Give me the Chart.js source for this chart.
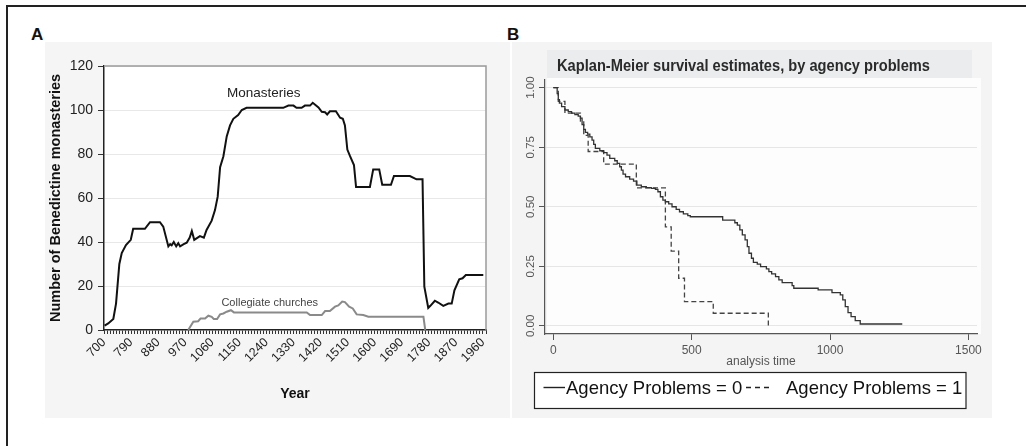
<!DOCTYPE html>
<html><head><meta charset="utf-8">
<script src="https://cdn.jsdelivr.net/npm/chart.js@4.4.1/dist/chart.umd.min.js"></script>
<style>
html,body{margin:0;padding:0;background:#fff;}
body{width:1026px;height:446px;position:relative;overflow:hidden;font-family:"Liberation Sans",Arial,sans-serif;}
#frame{position:absolute;left:6px;top:5px;width:1040px;height:460px;border-top:2px solid #222;border-left:2px solid #222;}
.plabel{position:absolute;font-weight:bold;font-size:17px;line-height:17px;color:#111;}
#wrapA{position:absolute;left:45px;top:42px;width:465px;height:376px;background:#f5f5f5;}
#wrapB{position:absolute;left:512px;top:42px;width:480px;height:376px;background:#f4f4f4;}
canvas{display:block;}
</style></head>
<body>
<div id="frame"></div>
<div class="plabel" style="left:31px;top:26px;">A</div>
<div class="plabel" style="left:507px;top:26px;">B</div>
<div id="wrapA"><canvas id="chartA" width="465" height="376"></canvas></div>
<div id="wrapB"><canvas id="chartB" width="480" height="376"></canvas></div>
<script>
const FONT = '"Liberation Sans", Arial, sans-serif';

// ---------- Panel A data ----------
const monYears = [702,714,731,740,751,759,773,789,797,836,853,886,897,914,920,925,932,940,947,953,965,975,985,992,1000,1019,1032,1041,1058,1069,1078,1086,1097,1108,1119,1130,1146,1158,1174,1296,1313,1330,1340,1357,1368,1385,1394,1413,1424,1435,1442,1451,1471,1485,1494,1501,1509,1518,1531,1538,1584,1595,1615,1625,1654,1664,1717,1739,1759,1765,1778,1785,1800,1811,1828,1845,1856,1865,1881,1892,1903,1961];
const monCounts = [2,3,5,12,30,35,38.6,41,46,46,49,49,47,38,39,38.5,40,38,39.5,38,39,39.7,42,45,41,42.7,42,45.5,49.7,54.5,60.6,74,79,88,93,96,97.7,100,101,101,102,102,101,101,102,102,103.3,101.2,99.2,99,98,99.4,99.4,96.5,96,93,82,79,75,65,65,73,73,66,66,70,70,68.5,68.5,19.7,10,11,13.3,12.5,11,12,12,18,23,23.5,25,25];
const churchYears = [980,997,1013,1021,1036,1047,1058,1065,1076,1086,1097,1108,1122,1132,1374,1385,1424,1435,1451,1468,1479,1492,1501,1515,1527,1540,1562,1579,1762,1768];
const churchCounts = [0,3.8,4,5.2,5.2,6.5,6,5,5,7.1,7.5,8.3,9,8,8,6.8,6.8,8.6,8.6,10.6,11.2,12.9,12.7,10.6,9.8,7.1,6.8,6,6,0];
const yearTickLabels = [700,790,880,970,1060,1150,1240,1330,1420,1510,1600,1690,1780,1870,1960];
const countTicks = [0,20,40,60,80,100,120];

// ---------- Panel B data ----------
const kmTime0 = [0,14,18,22,30,42,54,66,78,90,98,104,110,116,124,132,140,146,152,168,182,194,204,222,231,240,246,252,261,276,290,302,318,336,354,369,378,387,396,405,417,429,444,456,470,486,495,612,656,665,674,683,693,701,707,716,723,737,749,770,779,789,803,815,827,863,869,957,1007,1037,1046,1055,1065,1076,1091,1109,1261];
const kmSurv0 = [1,0.975,0.95,0.935,0.92,0.906,0.899,0.893,0.887,0.88,0.872,0.845,0.825,0.812,0.805,0.793,0.78,0.762,0.745,0.735,0.727,0.717,0.703,0.693,0.682,0.668,0.654,0.637,0.626,0.616,0.608,0.591,0.584,0.58,0.577,0.573,0.563,0.542,0.528,0.521,0.512,0.5,0.489,0.479,0.47,0.463,0.458,0.444,0.433,0.423,0.403,0.382,0.361,0.333,0.305,0.284,0.267,0.259,0.249,0.239,0.228,0.218,0.207,0.193,0.182,0.169,0.158,0.151,0.14,0.13,0.109,0.081,0.056,0.039,0.022,0.008,0.008];
const kmTime1 = [0,18,42,98,110,126,182,300,405,426,453,474,578,777];
const kmSurv1 = [1,0.942,0.893,0.86,0.8,0.732,0.679,0.579,0.416,0.314,0.2,0.102,0.053,0];
const kmTimeTicks = [0,500,1000,1500];
const kmSurvTicks = [0,0.25,0.5,0.75,1];
const kmTitle = 'Kaplan-Meier survival estimates, by agency problems';

const toXY = (xs, ys) => xs.map((x, i) => ({x, y: ys[i]}));

// ---------- Panel A ----------
const panelAPlugin = {
  id: 'panelA',
  beforeDraw(chart) {
    const {ctx, chartArea: a} = chart;
    ctx.save();
    ctx.fillStyle = '#ffffff';
    ctx.fillRect(a.left, a.top, a.right - a.left, a.bottom - a.top);
    ctx.restore();
  },
  beforeDatasetsDraw(chart) {
    const {ctx, chartArea: a} = chart;
    ctx.save();
    ctx.strokeStyle = '#9a9a9a';
    ctx.lineWidth = 1.5;
    ctx.beginPath();
    ctx.moveTo(a.left, a.top);
    ctx.lineTo(a.right, a.top);
    ctx.lineTo(a.right, a.bottom);
    ctx.stroke();
    ctx.restore();
  },
  afterDatasetsDraw(chart) {
    const {ctx, scales: {x, y}} = chart;
    ctx.save();
    ctx.textAlign = 'center';
    ctx.textBaseline = 'middle';
    ctx.fillStyle = '#222';
    ctx.font = '13.5px ' + FONT;
    ctx.fillText(chart.data.datasets[0].label, x.getPixelForValue(1231), y.getPixelForValue(107.5));
    ctx.fillStyle = '#444';
    ctx.font = '11px ' + FONT;
    ctx.fillText(chart.data.datasets[1].label, x.getPixelForValue(1251), y.getPixelForValue(12.4));
    ctx.restore();
  }
};

new Chart(document.getElementById('chartA'), {
  type: 'line',
  data: {
    datasets: [
      {label: 'Monasteries', data: toXY(monYears, monCounts), borderColor: '#111', borderWidth: 2, pointRadius: 0, tension: 0, fill: false},
      {label: 'Collegiate churches', data: toXY(churchYears, churchCounts), borderColor: '#8a8a8a', borderWidth: 2, pointRadius: 0, tension: 0, fill: false}
    ]
  },
  options: {
    responsive: false, animation: false, devicePixelRatio: 1,
    layout: {padding: {left: 0, top: 24, right: 24, bottom: 0}},
    plugins: {legend: {display: false}, tooltip: {enabled: false}},
    scales: {
      x: {
        type: 'linear', min: 700, max: 1970,
        ticks: {stepSize: 10, autoSkip: false, minRotation: 45, maxRotation: 45, color: '#222', padding: 1,
          font: {size: 12.5, family: FONT},
          callback: (v) => yearTickLabels.includes(Math.round(v)) ? String(Math.round(v)) : ''},
        grid: {drawOnChartArea: false, tickColor: '#333', tickLength: 4},
        border: {color: '#222', width: 1.5},
        title: {display: true, text: 'Year', color: '#111', font: {size: 14, weight: 'bold', family: FONT}, padding: {top: 0, bottom: 15}},
        afterFit(s) { s.height = 88; }
      },
      y: {
        min: 0, max: 120,
        afterBuildTicks(s) { s.ticks = countTicks.map(v => ({value: v})); },
        ticks: {color: '#222', padding: 5, font: {size: 14, family: FONT}},
        grid: {color: (c) => (c.tick && c.tick.value === 0) ? 'rgba(0,0,0,0)' : '#e8e8e8', tickColor: '#333', tickLength: 6},
        border: {color: '#222', width: 1.5},
        title: {display: true, text: 'Number of Benedictine monasteries', color: '#111', font: {size: 14.5, weight: 'bold', family: FONT}, padding: {top: 2, bottom: 0}},
        afterFit(s) { s.width = 59; }
      }
    }
  },
  plugins: [panelAPlugin]
});

// ---------- Panel B ----------
const panelBPlugin = {
  id: 'panelB',
  beforeDraw(chart) {
    const {ctx, chartArea: a} = chart;
    ctx.save();
    ctx.fillStyle = '#eaecee';
    ctx.fillRect(35, 8, 425, 28);
    ctx.fillStyle = '#fdfdfd';
    ctx.fillRect(a.left + 2, a.top - 2, a.right - a.left + 2, a.bottom - a.top + 2);
    ctx.fillStyle = '#2a2a2a';
    ctx.font = 'bold 17px ' + FONT;
    ctx.textBaseline = 'middle';
    ctx.textAlign = 'left';
    const w = ctx.measureText(kmTitle).width;
    ctx.translate(45, 24.5);
    ctx.scale(373 / w, 1);
    ctx.fillText(kmTitle, 0, 0);
    ctx.restore();
  },
  afterDraw(chart) {
    const {ctx} = chart;
    const ds = chart.data.datasets;
    ctx.save();
    ctx.fillStyle = '#fff';
    ctx.fillRect(22.5, 330.5, 431.5, 36);
    ctx.strokeStyle = '#222';
    ctx.lineWidth = 1.2;
    ctx.strokeRect(22.5, 330.5, 431.5, 36);
    ctx.strokeStyle = '#222';
    ctx.lineWidth = 1.4;
    ctx.beginPath(); ctx.moveTo(31.5, 345.5); ctx.lineTo(53, 345.5); ctx.stroke();
    ctx.setLineDash([5, 4]);
    ctx.beginPath(); ctx.moveTo(234, 345.5); ctx.lineTo(260, 345.5); ctx.stroke();
    ctx.setLineDash([]);
    ctx.fillStyle = '#111';
    ctx.font = '18.5px ' + FONT;
    ctx.textBaseline = 'alphabetic';
    ctx.textAlign = 'left';
    ctx.fillText(ds[0].label, 54, 351.5);
    ctx.fillText(ds[1].label, 274, 351.5);
    ctx.restore();
  }
};

new Chart(document.getElementById('chartB'), {
  type: 'line',
  data: {
    datasets: [
      {label: 'Agency Problems = 0', data: toXY(kmTime0, kmSurv0), stepped: true, borderColor: '#333', borderWidth: 1.3, pointRadius: 0, fill: false},
      {label: 'Agency Problems = 1', data: toXY(kmTime1, kmSurv1), stepped: true, borderColor: '#444', borderWidth: 1.3, borderDash: [5, 3], pointRadius: 0, fill: false}
    ]
  },
  options: {
    responsive: false, animation: false, devicePixelRatio: 1,
    layout: {padding: {left: 0, top: 38, right: 15, bottom: 0}},
    plugins: {legend: {display: false}, tooltip: {enabled: false}},
    scales: {
      x: {
        type: 'linear', min: -30, max: 1531,
        afterBuildTicks(s) { s.ticks = kmTimeTicks.map(v => ({value: v})); },
        ticks: {color: '#555', padding: 3, font: {size: 12, family: FONT}, maxRotation: 0, callback: (v) => String(v)},
        grid: {drawOnChartArea: false, tickColor: '#555', tickLength: 6},
        border: {color: '#555', width: 1.2},
        title: {display: true, text: 'analysis time', color: '#555', font: {size: 12, family: FONT}, padding: {top: 0, bottom: 49}},
        afterFit(s) { s.height = 84; }
      },
      y: {
        min: -0.034, max: 1.032,
        afterBuildTicks(s) { s.ticks = kmSurvTicks.map(v => ({value: v})); },
        ticks: {color: '#555', padding: -3.4, minRotation: 90, maxRotation: 90, crossAlign: 'center', font: {size: 11.5, family: FONT}, callback: (v) => Number(v).toFixed(2)},
        grid: {color: '#e6e6e6', tickColor: '#555', tickLength: 6},
        border: {color: '#555', width: 1.2},
        afterFit(s) { s.width = 33; }
      }
    }
  },
  plugins: [panelBPlugin]
});
</script>
</body></html>
